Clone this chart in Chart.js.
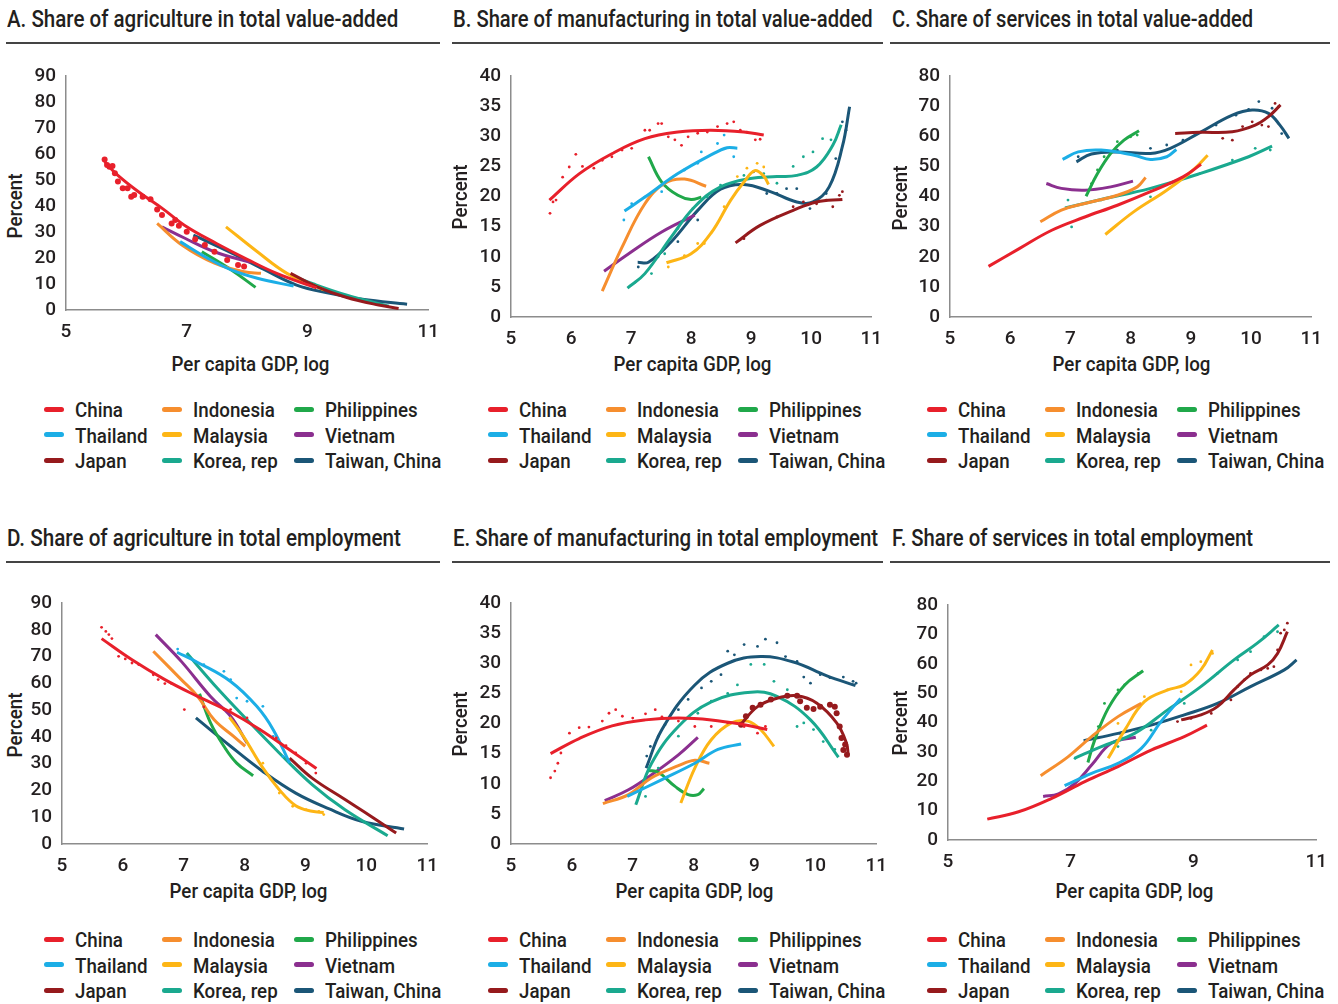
<!DOCTYPE html>
<html>
<head>
<meta charset="utf-8">
<script src="https://cdn.jsdelivr.net/npm/chart.js@4.4.1/dist/chart.umd.min.js"></script>
<style>
  body { margin: 0; background: #fff; width: 1338px; height: 1004px; position: relative; overflow: hidden;
         font-family: Roboto, "Open Sans", sans-serif; color: #231f20; }
  canvas { position: absolute; }
  .title { position: absolute; font-size: 23px; font-weight: 500; white-space: nowrap; transform-origin: 0 50%; line-height: 26px; }
  .rule { position: absolute; height: 2px; background: #444; }
  .txt { position: absolute; font-size: 21px; font-weight: 500; white-space: nowrap; line-height: 24px; }
  .sw { position: absolute; width: 20px; height: 5px; border-radius: 3px; }
</style>
</head>
<body>
<script>
// series order = legend order, column by column
const countries = ["China", "Thailand", "Japan", "Indonesia", "Malaysia", "Korea, rep", "Philippines", "Vietnam", "Taiwan, China"];
const colors = ["#e8202b", "#1caee6", "#961a1d", "#f68e2e", "#fdb515", "#1aa98f", "#20a84a", "#8b2f8f", "#1b5677"];

// fitted curves, [log GDP per capita, percent], one list per country
const agriVA = [
  [[5.64,57],[5.85,52],[6.2,45.5],[6.6,39],[7.0,32],[7.5,25.5],[8.0,19.5],[8.5,14],[9.15,8.5]],
  [[6.89,26.3],[7.3,20.5],[7.74,15.4],[8.17,12.2],[8.77,9.2]],
  [[8.72,14.1],[9.15,9],[9.64,4.9],[10.18,1.9],[10.51,0.6]],
  [[6.51,33.3],[6.92,25],[7.46,18],[7.95,14.7],[8.23,14.1]],
  [[7.65,32],[8.17,22.4],[8.66,14.1],[9.15,9],[9.28,7.7]],
  [[8.72,13.5],[9.1,10],[9.64,5.8],[10.35,1.5]],
  [[7.25,22.4],[7.74,15.4],[8.14,8.7]],
  [[6.59,32],[6.97,27.6],[7.46,22.4],[8.06,18.3]],
  [[7.11,28.8],[7.74,22],[8.28,15.6],[8.82,9.6],[9.37,6.4],[9.91,4.1],[10.65,2.2]]
];
const manuVA = [
  [[5.64,19.4],[6.14,23.8],[6.68,27.1],[7.23,29.6],[7.78,30.7],[8.33,31],[8.88,30.7],[9.21,30.2]],
  [[6.89,17.6],[7.23,19.9],[7.78,23.8],[8.33,26.9],[8.6,28.1],[8.77,28]],
  [[8.74,12.3],[9.15,15.2],[9.7,17.7],[10.09,19.1],[10.52,19.5]],
  [[6.52,4.3],[6.85,11.6],[7.23,18.8],[7.56,22.2],[7.89,22.9],[8.25,21.7]],
  [[7.59,9],[8.0,10.5],[8.33,13.9],[8.66,19.4],[8.88,22.4],[9.06,24.3],[9.2,23.5],[9.29,22]],
  [[6.94,4.8],[7.23,7.2],[7.67,13.3],[8.06,18.3],[8.49,21.6],[8.99,23],[9.43,23.3],[9.76,23.5],[10.09,24.9],[10.36,28.5],[10.5,31.9]],
  [[7.29,26.6],[7.51,22.4],[7.78,20.2],[8.0,19.5],[8.17,19.9]],
  [[6.55,7.6],[6.96,10.5],[7.51,14.1],[8.06,16.9]],
  [[7.11,9.1],[7.29,9.1],[7.67,12.5],[8.11,17.7],[8.49,21.2],[8.88,22],[9.32,20.8],[9.76,19.1],[10.03,19.1],[10.3,21.6],[10.52,28.3],[10.64,34.9]]
];
const servVA = [
  [[5.64,16.8],[6.15,22.7],[6.69,28.8],[7.24,33.2],[7.78,37.1],[8.33,41.6],[8.87,46.5],[9.17,50.7]],
  [[6.87,52.3],[7.13,54.8],[7.51,55.4],[8.06,53.7],[8.33,52.3],[8.6,53.2],[8.76,55.6]],
  [[8.74,60.9],[9.15,61.3],[9.69,61.5],[10.07,63.7],[10.29,66.5],[10.49,70.4]],
  [[6.5,31.6],[6.85,35.5],[7.24,37.7],[7.78,40.4],[8.11,43.2],[8.25,46.3]],
  [[7.58,27.4],[8.05,34.9],[8.6,42.1],[9.04,48.8],[9.28,53.7]],
  [[6.91,36.2],[7.51,39],[8.33,42.7],[9.15,47.6],[9.96,53.2],[10.35,56.7]],
  [[7.26,40.1],[7.45,47.6],[7.67,54.3],[7.89,58.7],[8.14,61.8]],
  [[6.6,44.3],[6.85,42.7],[7.24,42.1],[7.67,43.2],[8.04,45.1]],
  [[7.1,51.5],[7.35,54.1],[7.78,54.8],[8.33,54.3],[8.66,56],[9.15,61.2],[9.69,67],[10.02,68.7],[10.29,67.6],[10.48,63.7],[10.63,59.3]]
];
const agriEmp = [
  [[5.65,76.7],[6.15,68.8],[6.69,61.4],[7.23,55.1],[7.77,49.2],[8.25,42.8],[8.75,35],[9.18,28.2]],
  [[6.89,71.6],[7.23,67.8],[7.77,60.7],[8.2,51.4],[8.47,42.7],[8.74,30.2]],
  [[8.74,32.1],[9.11,24.6],[9.65,16.6],[10.08,10.3],[10.49,4.1]],
  [[6.5,72],[6.96,61.4],[7.23,55.1],[7.5,46.4],[7.82,40.2],[8.01,36.5]],
  [[7.75,47.4],[7.98,40.2],[8.3,28.4],[8.57,20.3],[8.84,14.3],[9.11,12.2],[9.3,11.8]],
  [[7.05,71.3],[7.5,59.5],[8.04,46.4],[8.57,34],[9.11,22.2],[9.65,12.8],[10.35,3.1]],
  [[7.26,56.1],[7.44,45.2],[7.66,36.5],[7.87,30.2],[8.14,25.5]],
  [[6.54,78.2],[6.96,68.2],[7.44,55.1],[7.77,47.7],[8.04,37.7]],
  [[7.2,47.1],[7.77,36.5],[8.3,27.1],[8.84,19],[9.38,13.2],[9.92,8.5],[10.62,5.6]]
];
const manuEmp = [
  [[5.65,15],[6.12,17.5],[6.66,19.6],[7.21,20.6],[7.75,20.9],[8.29,20.6],[8.83,19.8],[9.21,19]],
  [[6.91,7.9],[7.48,10.7],[8.02,13.4],[8.4,15.7],[8.78,16.6]],
  [[8.77,19.8],[9.05,22.8],[9.37,24.2],[9.7,24.6],[10.02,23.4],[10.35,20.1],[10.51,16.8],[10.54,14.8]],
  [[6.51,6.7],[6.93,8.2],[7.31,11],[7.75,13],[8.02,13.9],[8.26,13.4]],
  [[7.79,6.8],[8.02,12.6],[8.29,17.3],[8.62,20.1],[8.89,20.4],[9.1,19],[9.32,16.2]],
  [[7.05,6.5],[7.31,13.4],[7.75,19.5],[8.29,23.6],[8.94,25.2],[9.37,24.5],[9.92,20.6],[10.38,14.4]],
  [[7.26,12.2],[7.42,11.9],[7.69,9.6],[7.91,8.2],[8.07,8.2],[8.17,9.2]],
  [[6.54,7.2],[6.93,9],[7.31,11.5],[7.75,14.8],[8.07,17.7]],
  [[7.22,12.6],[7.48,19],[8.02,26.4],[8.56,30],[9.1,31.1],[9.64,30.2],[10.19,27.9],[10.66,26.3]]
];
const servEmp = [
  [[5.64,7.1],[6.15,9.6],[6.69,14.2],[7.23,19.9],[7.77,25],[8.31,30.6],[8.85,35.2],[9.22,39.1]],
  [[6.9,18.5],[7.34,22.7],[7.77,26.1],[8.15,31.2],[8.47,40.3],[8.79,48.2]],
  [[8.8,40.9],[9.12,42.6],[9.39,45.4],[9.66,51.1],[9.93,56.2],[10.21,59.6],[10.37,63.5],[10.53,70.9]],
  [[6.51,21.9],[6.96,28.4],[7.34,35.2],[7.77,42],[8.15,46.5]],
  [[7.61,27.8],[7.88,37.4],[8.2,47.1],[8.58,51.1],[8.85,52.8],[9.12,57.9],[9.31,64.7]],
  [[7.06,27.8],[7.5,31.8],[8.04,36.3],[8.58,44.3],[9.12,52.2],[9.66,61.3],[10.04,67],[10.39,73.2]],
  [[7.28,26.4],[7.39,34],[7.61,44.8],[7.88,52.8],[8.18,57.6]],
  [[6.55,14.8],[6.8,15.7],[7.07,19.3],[7.34,25.5],[7.66,32.9],[8.06,35]],
  [[7.21,33.8],[7.77,36.3],[8.31,39.1],[8.85,42.6],[9.39,46.5],[9.93,52.2],[10.48,57.9],[10.68,61.3]]
];

// observed points (only the clearly visible clusters)
const chinaAgriVAPts = [[5.64,57.9],[5.68,55.8],[5.72,55.1],[5.77,55.4],[5.81,52.6],[5.86,49.4],[5.94,46.8],[6.02,46.8],[6.08,43.6],[6.13,44.2],[6.27,43.6],[6.4,42.6],[6.51,38.7],[6.59,36.5],[6.75,33.3],[6.81,34.6],[6.87,32.4],[7.0,30.1],[7.14,27.2],[7.3,25],[7.46,22.4],[7.67,19.2],[7.85,17.3],[7.95,16.7]];
const chinaManuVAPts = [[5.65,17.2],[5.7,19.1],[5.75,19.4],[5.86,23.2],[5.97,24.9],[6.08,27],[6.19,25],[6.38,24.7],[6.52,26],[6.68,26.6],[6.85,27.7],[7.01,28],[7.23,31],[7.31,31],[7.45,32.1],[7.51,32.1],[7.62,29.9],[7.73,29.4],[7.84,28.5],[7.95,29.9],[8.11,30.5],[8.27,30.7],[8.44,31.6],[8.6,32.1],[8.71,32.4],[8.82,31],[8.93,30.7],[9.07,29.4],[9.15,29.5]];
const thaiManuVAPts = [[6.88,16.1],[7.01,18.8],[7.23,19.9],[7.51,20.8],[7.89,24.4],[8.11,25.5],[8.17,27.4],[8.44,28.8],[8.55,30.2],[8.71,26.6]];
const japanManuVAPts = [[8.88,13],[9.43,16.6],[9.7,18.3],[9.87,19.1],[10.09,18.8],[10.25,19.4],[10.36,18.3],[10.47,20.2],[10.52,20.8]];
const malayManuVAPts = [[7.62,8.3],[7.89,10.2],[8.11,12.2],[8.22,12.2],[8.55,18.3],[8.77,23.3],[8.93,24.7],[9.1,25.5],[9.21,24.9]];
const koreaManuVAPts = [[7.07,5.8],[7.34,7.2],[7.56,10.5],[7.78,14.7],[8.03,18],[8.27,19.9],[8.49,21.9],[8.88,23.5],[9.21,23.8],[9.43,22.2],[9.7,25],[9.87,26.6],[10.03,27.4],[10.19,29.6],[10.33,29.4]];
const taiwanManuVAPts = [[7.12,8.3],[7.45,10],[7.78,12.5],[8.11,16.1],[8.38,20.8],[8.71,22.2],[9.04,24.1],[9.26,20.5],[9.43,20.5],[9.59,21.3],[9.76,21.3],[9.98,18],[10.25,20.5],[10.41,26.3],[10.52,32.4],[10.58,31]];
const japanServVAPts = [[9.53,59.3],[9.69,58.7],[9.86,63.2],[10.02,64.8],[10.18,63.7],[10.29,63.2],[10.4,70.9],[10.46,69.8]];
const koreaServVAPts = [[6.96,38.8],[7.02,29.9],[7.51,38.8],[8.33,39.9],[9.15,47.6],[9.69,52.1],[10.07,56],[10.32,55.4]];
const philServVAPts = [[7.35,44.3],[7.45,48.8],[7.56,53.2],[7.78,58.2],[8.0,59.8],[8.11,60.4]];
const taiwanServVAPts = [[7.13,53.2],[7.78,55.4],[8.33,56],[8.6,57.1],[8.87,58.7],[9.42,63.7],[9.75,67],[9.96,68.9],[10.13,71.5],[10.35,69.3],[10.51,60.9]];
const chinaAgriEmpPts = [[5.65,80.9],[5.72,79.4],[5.77,78.2],[5.82,76.7],[5.93,70.1],[6.04,69.1],[6.15,67.6],[6.26,67],[6.5,63.2],[6.58,61.4],[6.69,59.9],[6.8,59.9],[7.01,50.2],[7.33,51.2],[7.66,50.2],[7.77,50.2],[8.04,47.1],[8.25,42.7],[8.52,39.6],[8.68,36.7],[8.84,34],[9.01,30.2],[9.17,26.5]];
const thaiAgriEmpPts = [[6.9,72.8],[7.33,67],[7.66,64.5],[7.77,61.4],[7.87,54.5],[8.04,53.3],[8.3,51.4],[8.47,40.2],[8.63,32.7]];
const malayAgriEmpPts = [[8.3,30.2],[8.57,19],[8.79,14.1],[9.01,12.8],[9.22,12.2],[9.3,11]];
const chinaManuEmpPts = [[5.65,11],[5.72,12.1],[5.77,13.4],[5.82,15.1],[5.96,18.4],[6.12,19.3],[6.28,19.4],[6.5,20.4],[6.61,21.7],[6.72,22.3],[6.83,21.2],[7.0,20.9],[7.21,21.6],[7.37,22.3],[7.48,21.1],[7.75,20.4],[8.02,19.5],[8.29,19.5],[8.56,20.1],[8.83,19.5],[9.05,18.4],[9.18,19.5]];
const japanManuEmpPts = [[8.78,19.8],[8.86,21.2],[8.97,22.6],[9.1,23.1],[9.27,24],[9.54,24.6],[9.7,24.6],[9.75,23.7],[9.86,22.6],[9.97,22.4],[10.08,22.8],[10.24,23.1],[10.32,22.8],[10.35,21.7],[10.4,19.5],[10.43,17.6],[10.49,16.5],[10.46,15.6],[10.52,14.8]];
const koreaManuEmpPts = [[7.21,7.9],[7.42,12.6],[7.75,17.9],[8.07,21.7],[8.29,23.7],[8.56,25],[8.72,26.4],[8.94,29.8],[9.16,29.8],[9.32,27],[9.54,25.6],[9.7,19.5],[9.81,20.1],[9.97,19],[10.13,17],[10.32,15.7]];
const taiwanManuEmpPts = [[7.23,14.6],[7.29,16.2],[7.42,17.9],[7.53,19.8],[7.75,22.3],[7.91,24],[8.13,25.9],[8.29,27],[8.45,28.1],[8.56,32],[8.67,31.4],[8.83,33.1],[9.05,32.8],[9.18,34],[9.37,33.4],[9.51,31.1],[9.7,30.3],[9.81,27.7],[9.92,26.7],[10.08,28.1],[10.24,27.6],[10.46,27.7],[10.62,27],[10.67,26.7]];
const japanServEmpPts = [[8.74,40.3],[8.96,41.4],[9.29,43.1],[9.61,47.7],[9.72,52.2],[9.83,54.5],[9.93,56.7],[10.1,57.9],[10.21,58.4],[10.31,59],[10.37,64.7],[10.42,70.4],[10.48,71.5],[10.53,73.8]];
const malayServEmpPts = [[7.77,39.7],[8.2,48.8],[8.58,51.1],[8.8,50.5],[8.96,59.6],[9.12,60.7],[9.31,63.5]];
const koreaServEmpPts = [[7.07,27.8],[7.77,31.8],[8.31,37.4],[8.85,46.5],[9.39,56.7],[9.72,61.3],[9.93,64.1],[10.15,69.2],[10.37,70.9]];
const philServEmpPts = [[7.45,38.6],[7.55,46.5],[7.77,51.1],[7.88,52.8],[8.1,56.7]];

const panels = [
  { title: "A. Share of agriculture in total value-added", curves: agriVA, pts: {0: chinaAgriVAPts}, big: [0],
    yMax: 90, yStep: 10, xStep: 2, area: [66, 76, 430, 310], col: 0, row: 0, tw: 391, xt: [250, 364], yt: [15, 206] },
  { title: "B. Share of manufacturing in total value-added", curves: manuVA,
    pts: {0: chinaManuVAPts, 1: thaiManuVAPts, 2: japanManuVAPts, 4: malayManuVAPts, 5: koreaManuVAPts, 8: taiwanManuVAPts}, big: [],
    yMax: 40, yStep: 5, xStep: 1, area: [511, 76, 873, 317], col: 1, row: 0, tw: 420, xt: [692, 364], yt: [460, 197] },
  { title: "C. Share of services in total value-added", curves: servVA,
    pts: {2: japanServVAPts, 5: koreaServVAPts, 6: philServVAPts, 8: taiwanServVAPts}, big: [],
    yMax: 80, yStep: 10, xStep: 1, area: [950, 76, 1313, 317], col: 2, row: 0, tw: 361, xt: [1131, 364], yt: [900, 198] },
  { title: "D. Share of agriculture in total employment", curves: agriEmp,
    pts: {0: chinaAgriEmpPts, 1: thaiAgriEmpPts, 4: malayAgriEmpPts}, big: [],
    yMax: 90, yStep: 10, xStep: 1, area: [62, 603, 429, 844], col: 0, row: 1, tw: 394, xt: [248, 891], yt: [15, 725] },
  { title: "E. Share of manufacturing in total employment", curves: manuEmp,
    pts: {0: chinaManuEmpPts, 2: japanManuEmpPts, 5: koreaManuEmpPts, 8: taiwanManuEmpPts}, big: [2],
    yMax: 40, yStep: 5, xStep: 1, area: [511, 603, 878, 844], col: 1, row: 1, tw: 425, xt: [694, 891], yt: [460, 724] },
  { title: "F. Share of services in total employment", curves: servEmp,
    pts: {2: japanServEmpPts, 4: malayServEmpPts, 5: koreaServEmpPts, 6: philServEmpPts}, big: [],
    yMax: 80, yStep: 10, xStep: 2, area: [948, 605, 1318, 840], col: 2, row: 1, tw: 361, xt: [1134, 891], yt: [900, 723] }
];

const colLeft = [0, 445, 885];
const titleX = [7, 453, 892];
const ruleX = [[6, 440], [452, 883], [890, 1330]];
const legendOff = [0, 444, 883];

function addText(cls, text, x, y) {
  const el = document.createElement("div");
  el.className = cls;
  el.textContent = text;
  el.style.left = x + "px";
  el.style.top = y + "px";
  document.body.appendChild(el);
  return el;
}

// one horizontal squeeze for the body text, taken from the widest legend entry
const probe = addText("txt", "Taiwan, China", 0, -100);
const squeeze = 116 / probe.offsetWidth;
probe.remove();

panels.forEach(p => {
  const [L, T, R, B] = p.area;

  // heading + rule
  const hy = p.row * 519;
  const t = addText("title", p.title, titleX[p.col], 7 + hy);
  t.style.transform = "scaleX(" + (p.tw / t.offsetWidth) + ")";
  const rl = document.createElement("div");
  rl.className = "rule";
  rl.style.left = ruleX[p.col][0] + "px";
  rl.style.width = (ruleX[p.col][1] - ruleX[p.col][0]) + "px";
  rl.style.top = (42 + hy) + "px";
  document.body.appendChild(rl);

  // axis titles
  const xt = addText("txt", "Per capita GDP, log", 0, p.xt[1] - 12);
  const w = xt.offsetWidth;
  xt.style.left = (p.xt[0] - w / 2) + "px";
  xt.style.transform = "scaleX(" + squeeze + ")";
  xt.style.transformOrigin = "50% 50%";
  const yt = addText("txt", "Percent", 0, 0);
  const yw = yt.offsetWidth;
  yt.style.left = (p.yt[0] - yw / 2) + "px";
  yt.style.top = (p.yt[1] - 12) + "px";
  yt.style.transform = "rotate(-90deg) scaleX(" + squeeze + ")";
  yt.style.transformOrigin = "50% 50%";

  // legend, three columns
  const oy = p.row * 530;
  countries.forEach((c, k) => {
    const col = Math.floor(k / 3), r = k % 3;
    const lx = [44, 162, 294][col] + legendOff[p.col];
    const ly = 409 + 25.5 * r + oy;
    const sw = document.createElement("div");
    sw.className = "sw";
    sw.style.background = colors[k];
    sw.style.left = lx + "px";
    sw.style.top = (ly - 2.5) + "px";
    document.body.appendChild(sw);
    const tx = addText("txt", c, [75, 193, 325][col] + legendOff[p.col], ly - 11);
    tx.style.transformOrigin = "0 50%";
    tx.style.transform = "scaleX(" + squeeze + ")";
  });

  // chart
  const cl = colLeft[p.col], ct = T - 24, cr = R + 20, cb = B + 44;
  const cv = document.createElement("canvas");
  cv.width = cr - cl;
  cv.height = cb - ct;
  cv.style.left = cl + "px";
  cv.style.top = ct + "px";
  document.body.appendChild(cv);

  const datasets = [];
  countries.forEach((c, k) => {
    const pts = p.pts[k];
    if (pts) {
      datasets.push({
        label: c + " (observed)",
        data: pts.map(([x, y]) => ({ x, y })),
        showLine: false,
        pointRadius: p.big.includes(k) ? 3 : 1.4,
        pointBackgroundColor: colors[k],
        pointBorderWidth: 0
      });
    }
    datasets.push({
      label: c,
      data: p.curves[k].map(([x, y]) => ({ x, y })),
      showLine: true,
      pointRadius: 0,
      borderColor: colors[k],
      borderWidth: 3,
      tension: 0.4,
      fill: false
    });
  });

  const tickFont = { family: "Roboto", size: 19, weight: 500 };
  new Chart(cv, {
    type: "scatter",
    data: { datasets },
    options: {
      responsive: false,
      animation: false,
      devicePixelRatio: 1,
      layout: { padding: { left: 0, top: 24, right: 20, bottom: 0 } },
      plugins: { legend: { display: false }, tooltip: { enabled: false } },
      scales: {
        x: {
          type: "linear", min: 5, max: 11,
          ticks: { stepSize: p.xStep, color: "#231f20", font: tickFont, padding: 11, maxRotation: 0 },
          grid: { display: false, drawTicks: false },
          border: { display: true, color: "#8c8c8c", width: 1.5 },
          afterFit: s => { s.height = 44; }
        },
        y: {
          min: 0, max: p.yMax,
          ticks: { stepSize: p.yStep, color: "#231f20", font: tickFont, padding: 10 },
          grid: { display: false, drawTicks: false },
          border: { display: true, color: "#8c8c8c", width: 1.5 },
          afterFit: s => { s.width = L - cl; }
        }
      }
    }
  });
});
</script>
</body>
</html>
